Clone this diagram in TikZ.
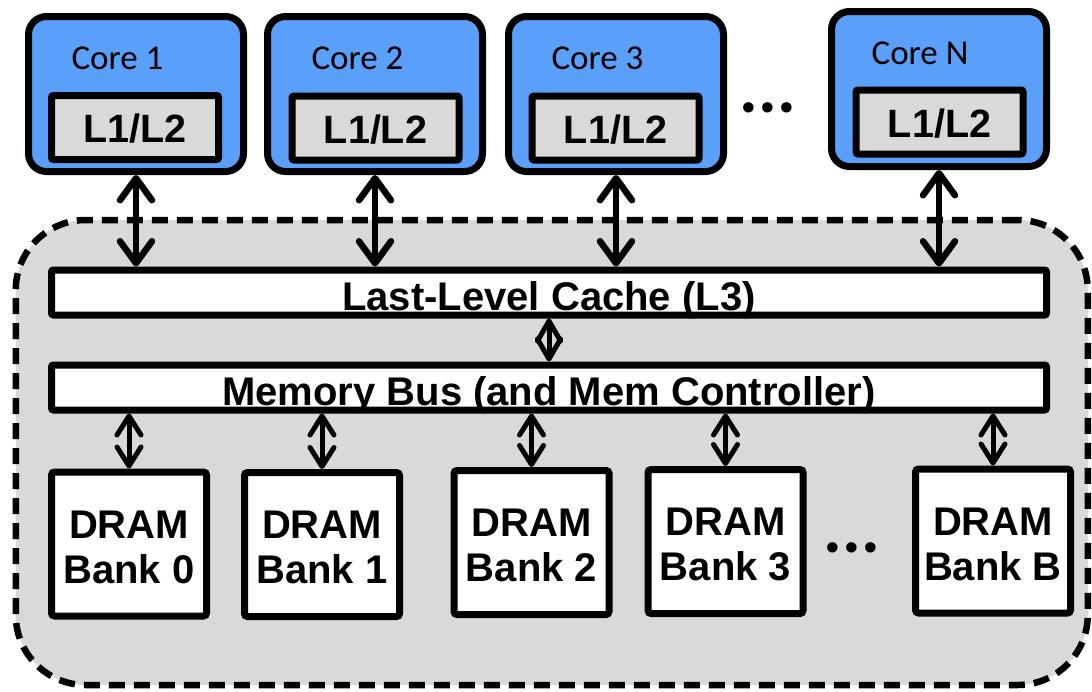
\documentclass[tikz,border=0pt]{standalone}
\usepackage{fontspec}
\setmainfont{Liberation Sans}
\newfontfamily\calfont{Carlito}
\usetikzlibrary{arrows.meta}
\definecolor{coreblue}{RGB}{90,160,250}
\definecolor{chipgray}{RGB}{217,217,217}
\begin{document}
\begin{tikzpicture}[x=1pt,y=-1pt,
  corebox/.style={draw, line width=7pt, fill=coreblue, rounded corners=18pt, minimum width=215pt, minimum height=155pt, inner sep=0pt},
  cachebox/.style={draw, line width=7pt, fill=chipgray, rounded corners=2pt, minimum width=167pt, minimum height=64pt, inner sep=0pt, text height=30pt, text depth=0pt, font=\fontsize{39.5}{45}\selectfont\bfseries},
  corelabel/.style={font=\calfont\fontsize{35}{40}\selectfont, inner sep=0pt},
  barbox/.style={draw, line width=7pt, fill=white, rounded corners=2pt, minimum width=995pt, minimum height=45pt, inner sep=0pt, text height=35pt, text depth=0pt, font=\fontsize{40}{45}\selectfont\bfseries},
  bankbox/.style={draw, line width=7pt, fill=white, rounded corners=3pt, minimum width=155pt, minimum height=144pt, inner sep=0pt, align=center, font=\fontsize{40}{45}\selectfont\bfseries},
  bigarrow/.style={line width=6.5pt, {Straight Barb[length=22pt,width=32pt,round]}-{Straight Barb[length=22pt,width=32pt,round]}},
  smallarrow/.style={line width=5pt, {Straight Barb[length=19pt,width=24pt,round]}-{Straight Barb[length=19pt,width=24pt,round]}},
  diamondarrow/.style={line width=5pt, {Straight Barb[length=20pt,width=23pt,round]}-{Straight Barb[length=20pt,width=23pt,round]}},
  dotstext/.style={font=\calfont\fontsize{70}{70}\selectfont\bfseries, inner sep=0pt}
]
\useasboundingbox (0,0) rectangle (1092,691);

% chip background
\node[draw, line width=6.5pt, dash pattern=on 16pt off 9pt, fill=chipgray, rounded corners=70pt, minimum width=1072pt, minimum height=465pt, inner sep=0pt] (chip) at (551.75,452.5) {};

% cores
\node[corebox] (c1) at (136,94) {};
\node[corebox] (c2) at (375,94) {};
\node[corebox] (c3) at (616,94) {};
\node[corebox] (cn) at (939,89) {};

\node[corelabel] (t1) at (117.5,58) {Core 1};
\node[corelabel] (t2) at (357.5,58) {Core 2};
\node[corelabel] (t3) at (597.5,58) {Core 3};
\node[corelabel] (tn) at (920,53) {Core N};

\node[cachebox] (l1) at (135,127.5) {L1/L2};
\node[cachebox] (l2) at (375.5,128) {L1/L2};
\node[cachebox] (l3) at (615.5,128) {L1/L2};
\node[cachebox] (ln) at (939.5,122) {L1/L2};

\node[dotstext] (dtop) at (768,108) {...};

% shared levels
\node[barbox] (llc) at (549,292.5) {Last-Level Cache (L3)};
\node[barbox] (mb) at (549,387.5) {Memory Bus (and Mem Controller)};

% banks
\node[bankbox] (b0) at (129,544) {\rule{0pt}{34pt}DRAM\\Bank 0};
\node[bankbox] (b1) at (322,544.5) {\rule{0pt}{34pt}DRAM\\Bank 1};
\node[bankbox] (b2) at (531.5,542.5) {\rule{0pt}{34pt}DRAM\\Bank 2};
\node[bankbox] (b3) at (725.5,541.5) {\rule{0pt}{34pt}DRAM\\Bank 3};
\node[bankbox] (bB) at (993,541) {\rule{0pt}{34pt}DRAM\\Bank B};

\node[dotstext] (dbot) at (852,548) {...};

% connectors
\draw[bigarrow] (c1.south) -- (c1.south |- llc.north);
\draw[bigarrow] (c2.south) -- (c2.south |- llc.north);
\draw[bigarrow] (c3.south) -- (c3.south |- llc.north);
\draw[bigarrow] (cn.south) -- (cn.south |- llc.north);

\draw[diamondarrow] (llc.south) -- (mb.north);

\draw[smallarrow] (mb.south -| b0.north) -- (b0.north);
\draw[smallarrow] (mb.south -| b1.north) -- (b1.north);
\draw[smallarrow] (mb.south -| b2.north) -- (b2.north);
\draw[smallarrow] (mb.south -| b3.north) -- (b3.north);
\draw[smallarrow] (mb.south -| bB.north) -- (bB.north);
\end{tikzpicture}
\end{document}
